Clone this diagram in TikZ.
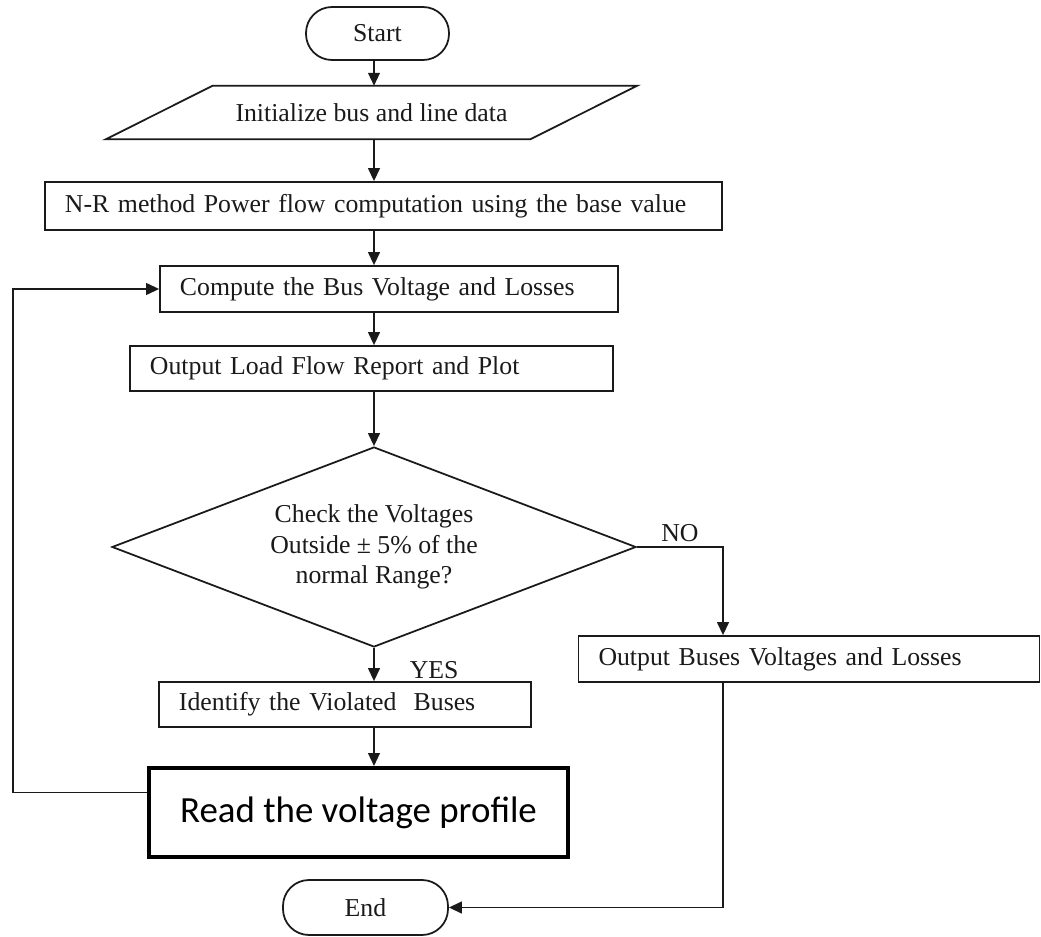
\documentclass[tikz,border=0pt]{standalone}
\usepackage{fontspec}
\setmainfont{Liberation Serif}
\newfontfamily\calibrifont{Carlito}
\usetikzlibrary{arrows.meta,positioning,shapes.geometric}
\definecolor{Ink}{HTML}{1A1A1A}

\begin{document}
\begin{tikzpicture}[x=0.03cm,y=-0.03cm,
    every node/.style={text=Ink,font=\fontsize{22}{26}\selectfont},
    line/.style={draw=Ink,line width=1.5pt},
    arr/.style={line,-{Triangle[length=11pt,width=10pt]}},
    procbox/.style={line,rectangle,inner xsep=0.6cm,inner ysep=0pt,align=left},
    termbox/.style={line,rectangle,rounded corners=0.78cm},
  ]
    \path[use as bounding box,fill=white] (0,0) rectangle (1041,937);
    \coordinate (mcol) at (374,0);
    \coordinate (rcol) at (723,0);
    \coordinate (fbx) at (13,0);

    \node[termbox,minimum width=4.29cm,minimum height=1.59cm] (start) at (377.5,33.5) {Start};
    \node[minimum width=12.72cm,minimum height=1.59cm] (init) at (371.5,112.5) {Initialize bus and line data};
    \draw[line] ([xshift=1.6cm]init.north west) -- ([xshift=1.6cm]init.north east)
      -- ([xshift=-1.6cm]init.south east) -- ([xshift=-1.6cm]init.south west) -- cycle;
    \node[procbox,text width=19.11cm,minimum height=1.44cm] (nr) at (383.5,206) {N-R method Power flow computation using the base value};
    \node[procbox,text width=12.54cm,minimum height=1.38cm] (comp) at (389,289) {Compute the Bus Voltage and Losses};
    \node[procbox,text width=13.29cm,minimum height=1.35cm] (outp) at (371.5,368.5) {Output Load Flow Report and Plot};
    \node[line,diamond,aspect=2.62,inner sep=0pt,align=center,minimum width=15.72cm,minimum height=6cm] (chk) at (374,547)
      {Check the Voltages\\Outside ± 5\% of the\\normal Range?};
    \node[procbox,text width=9.96cm,minimum height=1.35cm] (ident) at (345,704.5) {Identify the Violated\ \ Buses};
    \node[draw=black,line width=3.4pt,rectangle,minimum width=12.57cm,minimum height=2.67cm,
      font=\calibrifont\fontsize{31.5}{36}\selectfont,text=black] (read) at (358.5,812.5) {Read the voltage profile};
    \node[procbox,text width=12.63cm,minimum height=1.38cm] (bus) at (809,659) {Output Buses Voltages and Losses};
    \node[termbox,minimum width=4.95cm,minimum height=1.65cm] (end) at (365.5,907.5) {End};

    \draw[arr] (start.south -| mcol) -- (init.north -| mcol);
    \draw[arr] (init.south -| mcol) -- (nr.north -| mcol);
    \draw[arr] (nr.south -| mcol) -- (comp.north -| mcol);
    \draw[arr] (comp.south -| mcol) -- (outp.north -| mcol);
    \draw[arr] (outp.south -| mcol) -- (chk.north);
    \draw[arr] (chk.south) -- node[pos=0.66,right,xshift=0.93cm] {YES} (ident.north -| mcol);
    \draw[arr] (ident.south -| mcol) -- (read.north -| mcol);
    \draw[arr] (chk.east) -| node[pos=0.25,above] {NO} (bus.north -| rcol);
    \draw[arr] (bus.south -| rcol) |- (end.east);
    \draw[arr] ([yshift=0.6cm]read.west) -- ([yshift=0.6cm]read.west -| fbx) |- (comp.west);
  \end{tikzpicture}
\end{document}
